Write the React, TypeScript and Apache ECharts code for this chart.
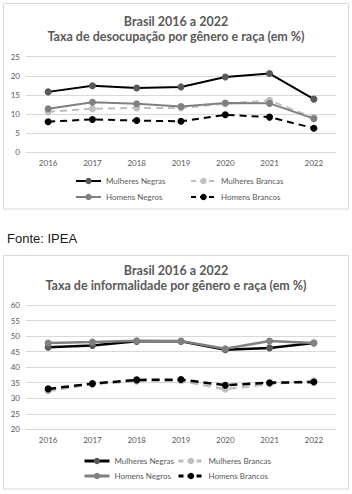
import React, { useEffect, useRef } from "react";
import * as echarts from "echarts";

const years = ["2016", "2017", "2018", "2019", "2020", "2021", "2022"];

const seriesNames = ["Mulheres Negras", "Mulheres Brancas", "Homens Negros", "Homens Brancos"];

// Taxa de desocupação (%)
const desocMulheresNegras = [15.8, 17.4, 16.8, 17.1, 19.7, 20.6, 13.9];
const desocMulheresBrancas = [10.6, 11.4, 11.6, 11.6, 12.7, 13.6, 9.0];
const desocHomensNegros = [11.4, 13.1, 12.7, 12.0, 12.9, 12.8, 8.8];
const desocHomensBrancos = [8.0, 8.6, 8.3, 8.1, 9.8, 9.2, 6.3];

// Taxa de informalidade (%)
const infMulheresNegras = [46.4, 47.0, 48.3, 48.3, 45.6, 46.2, 47.8];
const infMulheresBrancas = [32.3, 34.6, 35.5, 35.6, 32.9, 34.6, 35.6];
const infHomensNegros = [47.8, 48.1, 48.5, 48.4, 45.9, 48.4, 47.8];
const infHomensBrancos = [33.0, 34.7, 35.9, 36.0, 34.2, 35.0, 35.2];

const title1a = "Brasil 2016 a 2022";
const title1b = "Taxa de desocupação por gênero e raça (em %)";
const title2a = "Brasil 2016 a 2022";
const title2b = "Taxa de informalidade por gênero e raça (em %)";
const sourceText = "Fonte: IPEA";

const styles = [
  { line: "#000000", marker: "#595959", dashed: false },
  { line: "#bfbfbf", marker: "#bfbfbf", dashed: true },
  { line: "#808080", marker: "#808080", dashed: false },
  { line: "#000000", marker: "#000000", dashed: true },
];

const labelColor = "#595959";
const gridColor = "#d9d9d9";
const fontFam = "Lato, 'Open Sans', sans-serif";

export default function App() {
  const ref = useRef<HTMLDivElement>(null);
  useEffect(() => {
    if (!ref.current) return;
    const chart = echarts.init(ref.current, undefined, { renderer: "svg" });

    const data1 = [desocMulheresNegras, desocMulheresBrancas, desocHomensNegros, desocHomensBrancos];
    const data2 = [infMulheresNegras, infMulheresBrancas, infHomensNegros, infHomensBrancos];

    const mkSeries = (data: number[][], idx: number, width: number, symSize: number, dash: number[]) =>
      data.map((d, i) => ({
        type: "line",
        name: seriesNames[i],
        xAxisIndex: idx,
        yAxisIndex: idx,
        data: d,
        symbol: "circle",
        symbolSize: symSize,
        showSymbol: true,
        lineStyle: {
          color: styles[i].line,
          width: width,
          type: styles[i].dashed ? dash : "solid",
        },
        itemStyle: { color: styles[i].marker, borderWidth: 0 },
        emphasis: { disabled: true },
        z: 2 + i,
      }));

    const titleStyle = { fontFamily: fontFam, fontSize: 12.5, fontWeight: "bold", color: labelColor };

    const mkTitle = (text: string, top: number) => ({
      text,
      left: "center",
      top,
      padding: 0,
      textStyle: titleStyle,
    });

    const legendItem = (name: string, i: number, width: number) => ({
      name,
      itemStyle: { color: styles[i].marker },
      lineStyle: { color: styles[i].line, width, type: styles[i].dashed ? [5, 4] : "solid" },
    });

    const mkLegend = (names: number[], left: number, top: number, gap: number, width: number, h: number) => ({
      orient: "vertical",
      left,
      top,
      padding: 0,
      itemGap: gap,
      itemWidth: 25,
      itemHeight: h,
      textStyle: { fontFamily: fontFam, fontSize: 8, color: labelColor },
      data: names.map((n) => legendItem(seriesNames[n], n, width)),
      selectedMode: false,
    });

    const xAxisCommon = {
      type: "category",
      data: years,
      boundaryGap: true,
      axisLine: { show: true, lineStyle: { color: gridColor, width: 1 } },
      axisTick: { show: false },
      axisLabel: { color: labelColor, fontSize: 8, fontFamily: fontFam, margin: 7 },
    };

    const yAxisCommon = {
      type: "value",
      axisLine: { show: false },
      axisTick: { show: false },
      splitLine: { show: true, lineStyle: { color: gridColor, width: 1 } },
      axisLabel: { color: labelColor, fontSize: 8, fontFamily: fontFam, margin: 6 },
    };

    chart.setOption({
      animation: false,
      backgroundColor: "#ffffff",
      title: [
        mkTitle(title1a, 14.5),
        mkTitle(title1b, 29.5),
        mkTitle(title2a, 264),
        mkTitle(title2b, 279),
      ],
      legend: [
        mkLegend([0, 2], 75, 177, 8, 2, 8),
        mkLegend([1, 3], 190, 177, 8, 2, 8),
        mkLegend([0, 2], 83, 457, 7, 3, 8),
        mkLegend([1, 3], 177, 457, 7, 3, 8),
      ],
      grid: [
        { left: 26, right: 16, top: 56.7, height: 95.6, containLabel: false },
        { left: 26, right: 16, top: 305, height: 124.3, containLabel: false },
      ],
      xAxis: [
        { ...xAxisCommon, gridIndex: 0 },
        { ...xAxisCommon, gridIndex: 1 },
      ],
      yAxis: [
        { ...yAxisCommon, gridIndex: 0, min: 0, max: 25, interval: 5 },
        { ...yAxisCommon, gridIndex: 1, min: 20, max: 60, interval: 5 },
      ],
      graphic: [
        {
          type: "rect",
          shape: { x: 3.5, y: 3.5, width: 345, height: 205.5 },
          style: { fill: "none", stroke: gridColor, lineWidth: 1 },
          silent: true,
        },
        {
          type: "rect",
          shape: { x: 3.5, y: 255.5, width: 345, height: 233.5 },
          style: { fill: "none", stroke: gridColor, lineWidth: 1 },
          silent: true,
        },
        {
          type: "text",
          x: 7,
          y: 238.5,
          style: {
            text: sourceText,
            font: "13px 'Liberation Sans', Arial, sans-serif",
            fill: "#1a1a1a",
            verticalAlign: "middle",
          },
        },
      ],
      series: [...mkSeries(data1, 0, 2, 7, [7, 5]), ...mkSeries(data2, 1, 2.5, 7, [8, 5])],
    });

    return () => chart.dispose();
  }, []);

  return (
    <div
      ref={ref}
      style={{ position: "fixed", left: 0, top: 0, width: 352, height: 494, background: "#fff" }}
    />
  );
}
